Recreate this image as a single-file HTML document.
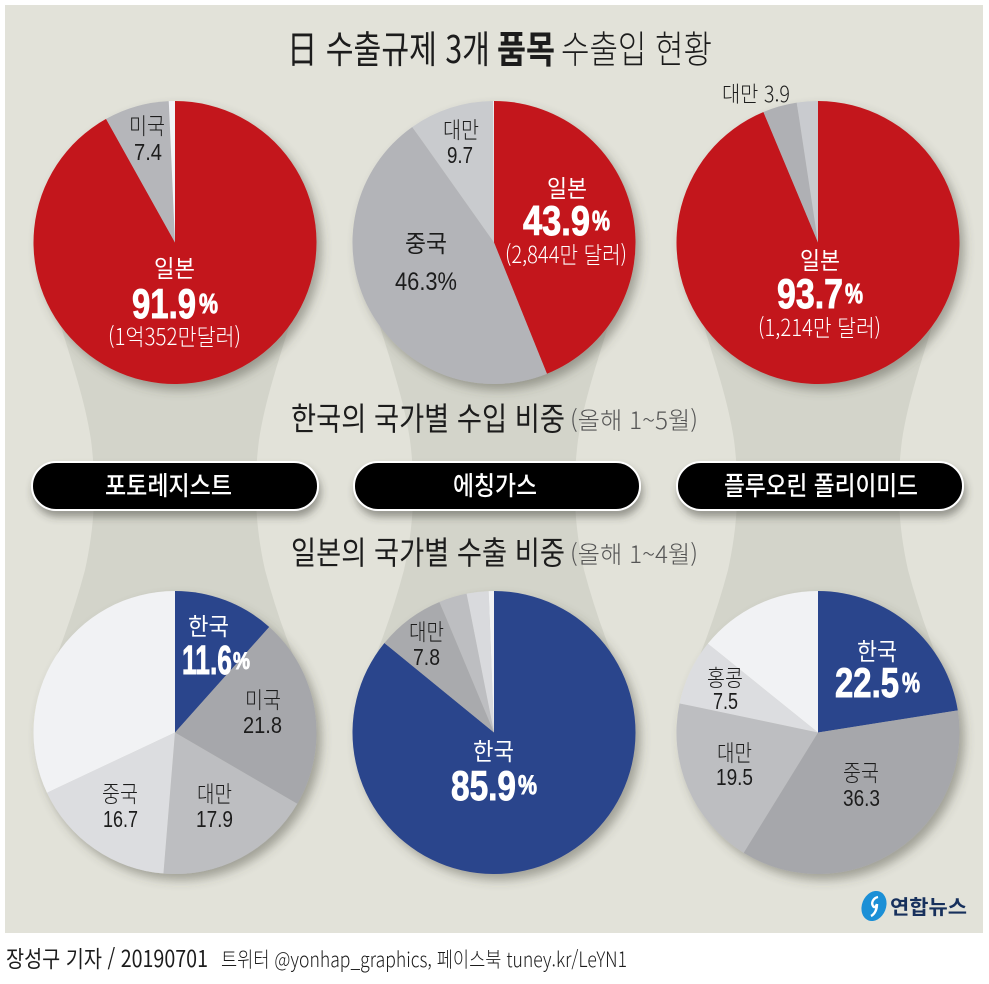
<!DOCTYPE html>
<html lang="ko">
<head>
<meta charset="utf-8">
<title>日 수출규제 3개 품목 수출입 현황</title>
<style>
html,body{margin:0;padding:0;background:#fff;width:989px;height:984px;overflow:hidden}
svg{display:block}
text{font-family:"Liberation Sans","Noto Sans CJK KR",sans-serif;fill:#1c1c1c}
.w{fill:#fff}
.b{font-weight:700}
.n{font-family:"Liberation Sans","Noto Sans CJK KR",sans-serif;font-weight:700;fill:#fff;stroke:#fff;stroke-width:.9px}
.k{font-family:"Noto Sans CJK KR",sans-serif}
.kw{font-family:"Noto Sans CJK KR",sans-serif;fill:#fff}
</style>
</head>
<body>
<svg xmlns="http://www.w3.org/2000/svg" width="989" height="984" viewBox="0 0 989 984">
<defs>
<filter id="pieShadow" x="-15%" y="-15%" width="135%" height="135%"><feDropShadow dx="5" dy="6" stdDeviation="5" flood-color="#4a4a40" flood-opacity="0.42"/></filter>
<filter id="pillShadow" x="-10%" y="-30%" width="120%" height="170%"><feDropShadow dx="2" dy="6" stdDeviation="4" flood-color="#3a3a30" flood-opacity="0.45"/></filter>
</defs>
<rect x="5" y="5" width="978" height="928" fill="#e2e2d9"/>
<g id="bands"></g>
<g id="pies"></g>

<text class="k" x="287" y="63" font-size="38" font-weight="400" textLength="203" lengthAdjust="spacingAndGlyphs">日 수출규제 3개</text>
<text class="k" x="497" y="63" font-size="38" font-weight="700" textLength="58" lengthAdjust="spacingAndGlyphs">품목</text>
<text class="k" x="561" y="63" font-size="38" font-weight="300" textLength="151" lengthAdjust="spacingAndGlyphs">수출입 현황</text>

<!-- pie 1 labels -->
<text class="kw" x="154" y="277" font-size="24" textLength="41" lengthAdjust="spacingAndGlyphs">일본</text>
<text class="n" x="132" y="318" font-size="42" textLength="64" lengthAdjust="spacingAndGlyphs">91.9</text>
<text class="n" x="199" y="313" font-size="28" textLength="19" lengthAdjust="spacingAndGlyphs">%</text>
<text class="kw" x="108" y="345" font-size="23" font-weight="300" textLength="133" lengthAdjust="spacingAndGlyphs">(1억352만달러)</text>
<text class="k" x="129" y="134" font-size="23" font-weight="300" textLength="36" lengthAdjust="spacingAndGlyphs">미국</text>
<text x="134" y="160" font-size="23" textLength="28" lengthAdjust="spacingAndGlyphs">7.4</text>

<!-- pie 2 labels -->
<text class="k" x="443" y="138" font-size="23" font-weight="300" textLength="36" lengthAdjust="spacingAndGlyphs">대만</text>
<text x="447" y="163" font-size="23" textLength="26" lengthAdjust="spacingAndGlyphs">9.7</text>
<text class="k" x="405" y="252" font-size="24" textLength="42" lengthAdjust="spacingAndGlyphs">중국</text>
<text x="395" y="290" font-size="25" textLength="62" lengthAdjust="spacingAndGlyphs">46.3%</text>
<text class="kw" x="547" y="197" font-size="24" textLength="40" lengthAdjust="spacingAndGlyphs">일본</text>
<text class="n" x="523" y="235" font-size="42" textLength="67" lengthAdjust="spacingAndGlyphs">43.9</text>
<text class="n" x="592" y="230" font-size="28" textLength="18" lengthAdjust="spacingAndGlyphs">%</text>
<text class="kw" x="505" y="263" font-size="23" font-weight="300" textLength="122" lengthAdjust="spacingAndGlyphs">(2,844만 달러)</text>

<!-- pie 3 labels -->
<text class="k" x="722" y="102" font-size="22" font-weight="300" textLength="68" lengthAdjust="spacingAndGlyphs">대만 3.9</text>
<text class="kw" x="800" y="269" font-size="24" textLength="40" lengthAdjust="spacingAndGlyphs">일본</text>
<text class="n" x="777" y="308" font-size="42" textLength="66" lengthAdjust="spacingAndGlyphs">93.7</text>
<text class="n" x="845" y="303" font-size="28" textLength="18" lengthAdjust="spacingAndGlyphs">%</text>
<text class="kw" x="758" y="336" font-size="23" font-weight="300" textLength="123" lengthAdjust="spacingAndGlyphs">(1,214만 달러)</text>

<!-- sub headings -->
<text class="k" x="291" y="430" font-size="32" font-weight="400" textLength="274" lengthAdjust="spacingAndGlyphs">한국의 국가별 수입 비중</text>
<text class="k" x="570" y="429" font-size="24" font-weight="300" textLength="128" lengthAdjust="spacingAndGlyphs" style="fill:#555">(올해 1~5월)</text>
<text class="k" x="291" y="564" font-size="32" font-weight="400" textLength="274" lengthAdjust="spacingAndGlyphs">일본의 국가별 수출 비중</text>
<text class="k" x="570" y="563" font-size="24" font-weight="300" textLength="128" lengthAdjust="spacingAndGlyphs" style="fill:#555">(올해 1~4월)</text>

<!-- pills -->
<rect x="32" y="462" width="286" height="48" rx="24" fill="#000" stroke="#fff" stroke-width="2" filter="url(#pillShadow)"/>
<rect x="354" y="462" width="286" height="48" rx="24" fill="#000" stroke="#fff" stroke-width="2" filter="url(#pillShadow)"/>
<rect x="677" y="462" width="286" height="48" rx="24" fill="#000" stroke="#fff" stroke-width="2" filter="url(#pillShadow)"/>
<text class="kw" x="105" y="495" font-size="26" font-weight="500" textLength="127" lengthAdjust="spacingAndGlyphs">포토레지스트</text>
<text class="kw" x="453" y="495" font-size="26" font-weight="500" textLength="84" lengthAdjust="spacingAndGlyphs">에칭가스</text>
<text class="kw" x="724" y="495" font-size="26" font-weight="500" textLength="194" lengthAdjust="spacingAndGlyphs">플루오린 폴리이미드</text>

<!-- pie 4 labels -->
<text class="kw" x="188" y="635" font-size="24" textLength="41" lengthAdjust="spacingAndGlyphs">한국</text>
<text class="n" x="182" y="674" font-size="41" textLength="50" lengthAdjust="spacingAndGlyphs">11.6</text>
<text class="n" x="233" y="669" font-size="24" textLength="17" lengthAdjust="spacingAndGlyphs">%</text>
<text class="k" x="245" y="708" font-size="23" font-weight="300" textLength="36" lengthAdjust="spacingAndGlyphs">미국</text>
<text x="243" y="733" font-size="23" textLength="39" lengthAdjust="spacingAndGlyphs">21.8</text>
<text class="k" x="197" y="802" font-size="23" font-weight="300" textLength="35" lengthAdjust="spacingAndGlyphs">대만</text>
<text x="196" y="827" font-size="23" textLength="37" lengthAdjust="spacingAndGlyphs">17.9</text>
<text class="k" x="102" y="802" font-size="23" font-weight="300" textLength="36" lengthAdjust="spacingAndGlyphs">중국</text>
<text x="103" y="827" font-size="23" textLength="35" lengthAdjust="spacingAndGlyphs">16.7</text>

<!-- pie 5 labels -->
<text class="k" x="409" y="640" font-size="23" font-weight="300" textLength="35" lengthAdjust="spacingAndGlyphs">대만</text>
<text x="413" y="665" font-size="23" textLength="27" lengthAdjust="spacingAndGlyphs">7.8</text>
<text class="kw" x="473" y="760" font-size="24" textLength="41" lengthAdjust="spacingAndGlyphs">한국</text>
<text class="n" x="451" y="800" font-size="42" textLength="65" lengthAdjust="spacingAndGlyphs">85.9</text>
<text class="n" x="518" y="794" font-size="27" textLength="19" lengthAdjust="spacingAndGlyphs">%</text>

<!-- pie 6 labels -->
<text class="kw" x="857" y="660" font-size="24" textLength="40" lengthAdjust="spacingAndGlyphs">한국</text>
<text class="n" x="835" y="697" font-size="42" textLength="64" lengthAdjust="spacingAndGlyphs">22.5</text>
<text class="n" x="902" y="692" font-size="28" textLength="18" lengthAdjust="spacingAndGlyphs">%</text>
<text class="k" x="707" y="686" font-size="23" font-weight="300" textLength="36" lengthAdjust="spacingAndGlyphs">홍콩</text>
<text x="713" y="709" font-size="23" textLength="25" lengthAdjust="spacingAndGlyphs">7.5</text>
<text class="k" x="717" y="761" font-size="23" font-weight="300" textLength="35" lengthAdjust="spacingAndGlyphs">대만</text>
<text x="716" y="785" font-size="23" textLength="37" lengthAdjust="spacingAndGlyphs">19.5</text>
<text class="k" x="843" y="781" font-size="23" font-weight="300" textLength="36" lengthAdjust="spacingAndGlyphs">중국</text>
<text x="843" y="806" font-size="23" textLength="37" lengthAdjust="spacingAndGlyphs">36.3</text>

<!-- logo -->
<g>
<ellipse cx="874" cy="906" rx="12" ry="15.5" transform="rotate(22 874 906)" fill="#1b8fd6"/>
<path d="M878 897c-5 1-7 6-5 9 1 2 3 1 4-2m0 0c0 5-2 10-6 12" fill="none" stroke="#fff" stroke-width="2.4"/>
<text class="k" x="890" y="914" font-size="20" font-weight="700" textLength="77" lengthAdjust="spacingAndGlyphs" style="fill:#17305c">연합뉴스</text>
</g>

<!-- footer -->
<text class="k" x="6" y="967" font-size="23" font-weight="400" textLength="202" lengthAdjust="spacingAndGlyphs">장성구 기자 / 20190701</text>
<text class="k" x="221" y="967" font-size="21" font-weight="300" textLength="406" lengthAdjust="spacingAndGlyphs">트위터 @yonhap_graphics, 페이스북 tuney.kr/LeYN1</text>
</svg>

<script>
// Chart data: percentages read clockwise from 12 o'clock
const photoresistImportCategories = ['일본', '미국', '기타'];
const photoresistImportValues = [91.9, 7.4, 0.7];
const etchingImportCategories = ['일본', '중국', '대만', '기타'];
const etchingImportValues = [43.9, 46.3, 9.7, 0.1];
const polyimideImportCategories = ['일본', '대만', '기타'];
const polyimideImportValues = [93.7, 3.9, 2.4];
const photoresistExportCategories = ['한국', '미국', '대만', '중국', '기타'];
const photoresistExportValues = [11.6, 21.8, 17.9, 16.7, 32.0];
const etchingExportCategories = ['한국', '대만', '기타1', '기타2', '기타3'];
const etchingExportValues = [85.9, 7.8, 3.2, 2.5, 0.6];
const polyimideExportCategories = ['한국', '중국', '대만', '홍콩', '기타'];
const polyimideExportValues = [22.5, 36.3, 19.5, 7.5, 14.2];

const SVG_NS = 'http://www.w3.org/2000/svg';
const RADIUS = 141.5;
const COLS = [175, 494, 818];
const ROWS = [242.5, 732.5];

function angleScale(pct) { return pct / 100 * 2 * Math.PI; }
function px(cx, a, r) { return cx + r * Math.sin(a); }
function py(cy, a, r) { return cy - r * Math.cos(a); }

function drawPie(name, cx, cy, categories, values, colors) {
  const total = values.reduce(function (s, v) { return s + v; }, 0);
  const g = document.createElementNS(SVG_NS, 'g');
  
  
  g.setAttribute('filter', 'url(#pieShadow)');
  let acc = 0;
  values.forEach(function (v, i) {
    const a0 = angleScale(acc / total * 100);
    acc += v;
    const a1 = angleScale(acc / total * 100);
    const large = (a1 - a0) > Math.PI ? 1 : 0;
    const p = document.createElementNS(SVG_NS, 'path');
    p.setAttribute('d', 'M' + cx + ' ' + cy + 'L' + px(cx, a0, RADIUS) + ' ' + py(cy, a0, RADIUS) +
      'A' + RADIUS + ' ' + RADIUS + ' 0 ' + large + ' 1 ' + px(cx, a1, RADIUS) + ' ' + py(cy, a1, RADIUS) + 'Z');
    p.setAttribute('fill', colors[i]);
    
    
    g.appendChild(p);
  });
  document.getElementById('pies').appendChild(g);
}

function drawBand(cx) {
  const d = 'M' + (cx - 116) + ' 320 C' + (cx - 104) + ' 360 ' + (cx - 90) + ' 400 ' + (cx - 84) + ' 440' +
    ' C' + (cx - 79) + ' 480 ' + (cx - 79) + ' 520 ' + (cx - 90) + ' 570' +
    ' C' + (cx - 98) + ' 600 ' + (cx - 108) + ' 630 ' + (cx - 120) + ' 660' +
    ' L' + (cx + 120) + ' 660' +
    ' C' + (cx + 108) + ' 630 ' + (cx + 98) + ' 600 ' + (cx + 90) + ' 570' +
    ' C' + (cx + 79) + ' 520 ' + (cx + 79) + ' 480 ' + (cx + 84) + ' 440' +
    ' C' + (cx + 90) + ' 400 ' + (cx + 104) + ' 360 ' + (cx + 116) + ' 320Z';
  const b = document.createElementNS(SVG_NS, 'path');
  b.setAttribute('d', d);
  b.setAttribute('fill', '#d3d4ca');
  
  
  document.getElementById('bands').appendChild(b);
}

COLS.forEach(drawBand);

drawPie('pie-photoresist-import', COLS[0], ROWS[0], photoresistImportCategories, photoresistImportValues, ['#c3161c', '#b5b6ba', '#f2f3f7']);
drawPie('pie-etching-import', COLS[1], ROWS[0], etchingImportCategories, etchingImportValues, ['#c3161c', '#b3b4b8', '#c9cbce', '#f2f3f7']);
drawPie('pie-polyimide-import', COLS[2], ROWS[0], polyimideImportCategories, polyimideImportValues, ['#c3161c', '#afb0b4', '#c9cbcf']);
drawPie('pie-photoresist-export', COLS[0], ROWS[1], photoresistExportCategories, photoresistExportValues, ['#2a448c', '#a6a7ab', '#bdbec1', '#dcdde0', '#f1f2f4']);
drawPie('pie-etching-export', COLS[1], ROWS[1], etchingExportCategories, etchingExportValues, ['#2a448c', '#a9aaad', '#bdbec1', '#d9dadd', '#f1f2f4']);
drawPie('pie-polyimide-export', COLS[2], ROWS[1], polyimideExportCategories, polyimideExportValues, ['#2a448c', '#a6a7ab', '#bdbec1', '#dcdde0', '#f1f2f4']);
</script>
</body>
</html>
